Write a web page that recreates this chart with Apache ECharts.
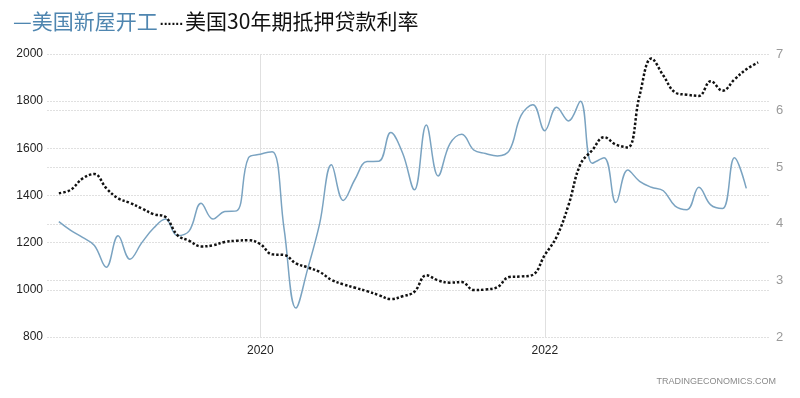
<!DOCTYPE html>
<html>
<head>
<meta charset="utf-8">
<script src="https://cdn.jsdelivr.net/npm/echarts@6/dist/echarts.min.js"></script>
<style>
  html, body { margin: 0; padding: 0; background: #ffffff; }
  #chart { width: 800px; height: 398px; }
</style>
</head>
<body>
<div id="chart"></div>
<script>
// 月份范围 (前后各留一个空位)
const startYear = 2018, startMonth = 7;
const monthCount = 62; // 2018-07 ... 2023-08

// 美国新屋开工 (千套), 2018-08 起
const housingStarts = [
  1289, 1252, 1222, 1188, 1096, 1229, 1130, 1200, 1262, 1300,
  1230, 1250, 1367, 1300, 1332, 1335, 1560, 1575, 1585, 1260,
  923, 1090, 1280, 1530, 1379, 1470, 1544, 1545, 1667, 1580,
  1424, 1699, 1483, 1620, 1660, 1593, 1578, 1568, 1590, 1740,
  1785, 1675, 1774, 1716, 1800, 1537, 1560, 1370, 1508, 1460,
  1435, 1420, 1355, 1340, 1435, 1360, 1345, 1560, 1430
];

// 美国30年期抵押贷款利率 (%), 2018-08 起
const mortgageRate = [
  4.54, 4.60, 4.80, 4.88, 4.63, 4.45, 4.37, 4.27, 4.17, 4.12,
  3.80, 3.70, 3.60, 3.62, 3.68, 3.70, 3.71, 3.64, 3.46, 3.45,
  3.30, 3.23, 3.15, 3.01, 2.93, 2.87, 2.81, 2.74, 2.67, 2.72,
  2.80, 3.09, 3.00, 2.96, 2.97, 2.83, 2.84, 2.88, 3.06, 3.07,
  3.10, 3.45, 3.77, 4.33, 5.05, 5.30, 5.53, 5.40, 5.35, 6.27,
  6.92, 6.62, 6.32, 6.28, 6.26, 6.52, 6.35, 6.55, 6.73, 6.85
];

const leftTicks = [800, 2000, 200];
const rightTicks = [2, 7, 1];
const yearMarks = ['2020-01', '2022-01'];

const months = [];
for (let i = 0; i < monthCount; i++) {
  const y = startYear + Math.floor((startMonth - 1 + i) / 12);
  const m = (startMonth - 1 + i) % 12 + 1;
  months.push(y + '-' + (m < 10 ? '0' + m : m));
}

function pad(arr) {
  const out = [null].concat(arr);
  while (out.length < monthCount) out.push(null);
  return out;
}

const isYearMark = (idx, val) => yearMarks.indexOf(val) >= 0;

const myChart = echarts.init(document.getElementById('chart'));

const option = {
  animation: false,
  backgroundColor: '#ffffff',
  title: {
    left: 8,
    top: 6,
    text: '{a|—美国新屋开工}{c|......}{b|美国30年期抵押贷款利率}',
    textStyle: {
      fontWeight: 'normal',
      rich: {
        a: { color: '#4f86b0', fontSize: 21, fontWeight: 'normal', fontFamily: 'Noto Sans CJK SC' },
        c: { color: '#111111', fontSize: 14, fontWeight: 'bold', fontFamily: 'Liberation Sans', padding: [0, 2, 0, 2] },
        b: { color: '#111111', fontSize: 21, fontWeight: 'normal', fontFamily: 'Noto Sans CJK SC' }
      }
    }
  },
  graphic: [{
    type: 'text',
    right: 24,
    bottom: 12,
    style: {
      text: 'TRADINGECONOMICS.COM',
      fill: '#8a8a8a',
      font: '9px "Liberation Sans"'
    }
  }],
  grid: { left: 47, right: 30, top: 54, bottom: 61 },
  xAxis: {
    type: 'category',
    data: months,
    boundaryGap: false,
    axisLine: { show: false },
    axisTick: { show: false },
    axisLabel: {
      interval: isYearMark,
      formatter: v => v.slice(0, 4),
      color: '#222',
      fontSize: 12,
      fontFamily: 'Liberation Sans',
      margin: 8
    },
    splitLine: {
      show: true,
      interval: isYearMark,
      lineStyle: { color: '#e0e0e0', width: 1 }
    }
  },
  yAxis: [{
    type: 'value',
    min: leftTicks[0],
    max: leftTicks[1],
    interval: leftTicks[2],
    axisLine: { show: false },
    axisTick: { show: false },
    axisLabel: { color: '#222', fontSize: 12, fontFamily: 'Liberation Sans', margin: 4, formatter: v => String(v) },
    splitLine: { lineStyle: { color: '#e0e0e0', type: [2, 1] } }
  }, {
    type: 'value',
    min: rightTicks[0],
    max: rightTicks[1],
    interval: rightTicks[2],
    axisLine: { show: false },
    axisTick: { show: false },
    axisLabel: { color: '#9a9a9a', fontSize: 13, fontFamily: 'Liberation Sans', margin: 6 },
    splitLine: { lineStyle: { color: '#e0e0e0', type: [2, 1] } }
  }],
  series: [{
    name: '美国新屋开工',
    type: 'line',
    yAxisIndex: 0,
    data: pad(housingStarts),
    smooth: 0.4,
    showSymbol: false,
    lineStyle: { color: '#7aa3c1', width: 1.5 }
  }, {
    name: '美国30年期抵押贷款利率',
    type: 'line',
    yAxisIndex: 1,
    data: pad(mortgageRate),
    smooth: 0.4,
    showSymbol: false,
    lineStyle: { color: '#111111', width: 2.5, type: [2.5, 2], cap: 'butt' }
  }]
};

myChart.setOption(option);
window.addEventListener('resize', () => {
  myChart.resize();
});
</script>
</body>
</html>
